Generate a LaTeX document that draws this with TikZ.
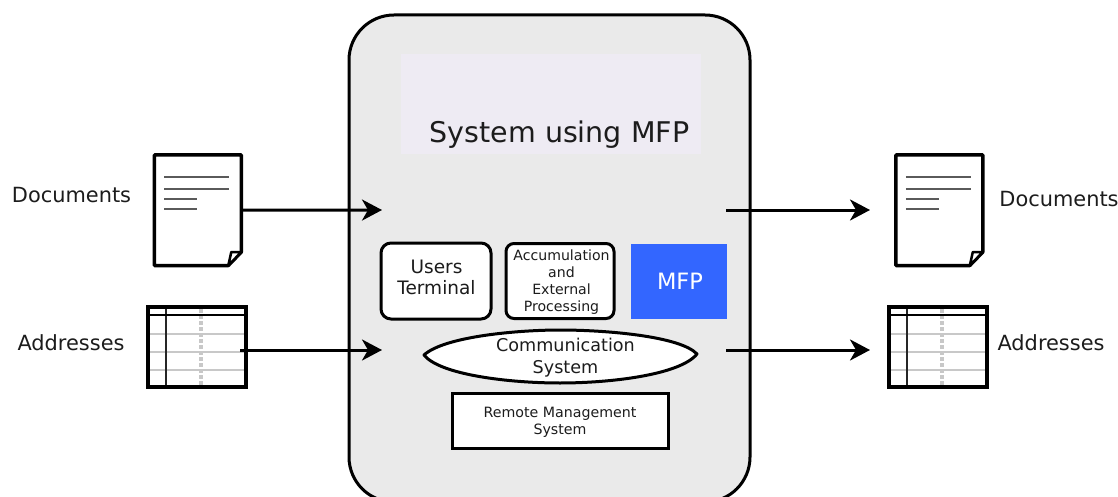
\documentclass[tikz,border=0pt]{standalone}
\usepackage{fontspec}
\setmainfont{DejaVu Sans}
\usetikzlibrary{arrows.meta}
\definecolor{panelgrey}{HTML}{EAEAEA}
\definecolor{titlebg}{HTML}{EEEBF3}
\definecolor{mfpblue}{HTML}{3366FF}
\definecolor{inkdark}{HTML}{1C1C1C}
\definecolor{rulegrey}{HTML}{5A5A5A}
\definecolor{tablegrey}{HTML}{C8C8C8}
\newcommand{\fsz}[2]{\fontsize{#1}{#2}\selectfont}
\tikzset{
  x=1pt,y=-1pt,
  every node/.style={inner sep=0pt,outer sep=0pt,text=inkdark},
  label21/.style={anchor=base,font=\fsz{20.9}{25}},
  sysbox/.style={draw=black,line width=3pt,fill=panelgrey,rounded corners=45pt,minimum width=401pt,minimum height=487pt},
  whitebox/.style={draw=black,line width=3pt,fill=white,align=center},
  boxtext/.style={align=center},
  flow/.style={draw=black,line width=3pt,-{Stealth[length=20pt,width=21pt,inset=6pt]}},
  pics/docicon/.style={code={
    \node[minimum width=87pt,minimum height=110.5pt] (-box) at (43.5,55.25) {};
    \draw[black,line width=3.5pt,line join=round,fill=white]
      (0,0) -- (87,0) -- (87,97) -- (74,110.5) -- (0,110.5) -- cycle;
    \draw[black,line width=2.5pt,line join=round,fill=white]
      (74,110.5) -- (77,97) -- (87,97) -- cycle;
    \draw[rulegrey,line width=2pt]
      (10,22) -- (75,22) (10,34) -- (75,34) (10,44) -- (43,44) (10,54) -- (43,54);
  }},
  pics/tableicon/.style={code={
    \node[minimum width=98pt,minimum height=80pt] (-box) at (49,40) {};
    \coordinate (-out) at (92,43);
    \draw[black,line width=3.5pt,fill=white] (0,0) rectangle (98,80);
    \draw[tablegrey,line width=2.5pt] (2,27) -- (96,27) (2,45) -- (96,45) (2,63) -- (96,63);
    \draw[tablegrey,line width=3.5pt,dash pattern=on 4pt off 2pt] (53,2) -- (53,78);
    \draw[black!85,line width=2pt] (18,2) -- (18,78);
    \draw[black,line width=2.5pt] (2,8) -- (96,8);
  }},
}
\begin{document}
\begin{tikzpicture}
\useasboundingbox (0,0) rectangle (1118,497);
\clip (0,0) rectangle (1118,497);
\node[sysbox] (system) at (549.5,258.5) {};
\node[fill=titlebg,minimum width=300pt,minimum height=100pt] (titlebox) at (551,104) {};
\node[anchor=base,font=\fsz{28.5}{34}] (title) at (559.5,143) {System using MFP};

\node[label21] (docLtext) at (71.5,202) {Documents};
\node[label21] (addrLtext) at (71,350) {Addresses};
\node[label21] (docRtext) at (1059,207) {Documents};
\node[label21] (addrRtext) at (1051,350) {Addresses};

\pic (docL) at (154.3,155) {docicon};
\pic (tabL) at (148,307) {tableicon};
\pic (docR) at (895.8,155) {docicon};
\pic (tabR) at (889,307) {tableicon};

\node[whitebox,rounded corners=10pt,minimum width=110pt,minimum height=76pt] (users) at (436,281) {};
\node[boxtext,font=\fsz{18.5}{21}] (userstext) at (436.5,277.5) {Users\\Terminal};
\node[whitebox,rounded corners=8pt,minimum width=108pt,minimum height=75pt] (accum) at (560,281) {};
\node[boxtext,font=\fsz{14.1}{17}] (accumtext) at (561.5,282.5) {Accumulation\\and\\External\\Processing};
\node[fill=mfpblue,text=white,minimum width=96pt,minimum height=75pt,font=\fsz{22.5}{26}] (mfp) at (679,281) {\hspace*{2pt}MFP};
\draw[black,line width=3pt,fill=white,line join=round]
  (424,355) .. controls (445,336) and (520,330) .. (560,330)
  .. controls (605,330) and (680,336) .. (697,354)
  .. controls (680,375) and (610,383) .. (560,383)
  .. controls (510,383) and (440,375) .. (424,355) -- cycle;
\node[boxtext,font=\fsz{17.6}{21.5}] (comm) at (565.5,357.5) {Communication\\System};
\node[whitebox,minimum width=216pt,minimum height=55pt] (remote) at (560,420.5) {};
\node[boxtext,font=\fsz{14.2}{17.5}] (remotetext) at (560,422.5) {Remote Management\\System};

\coordinate (inA) at (382,210);
\coordinate (inB) at (382,350);
\coordinate (outA) at (726,210);
\coordinate (outB) at (726,350);
\coordinate (endA) at (870,210);
\coordinate (endB) at (870,350);
\draw[flow] (docL-box.east) -- (inA);
\draw[flow] (tabL-out) -- (inB);
\draw[flow] (outA) -- (endA);
\draw[flow] (outB) -- (endB);
\end{tikzpicture}
\end{document}
